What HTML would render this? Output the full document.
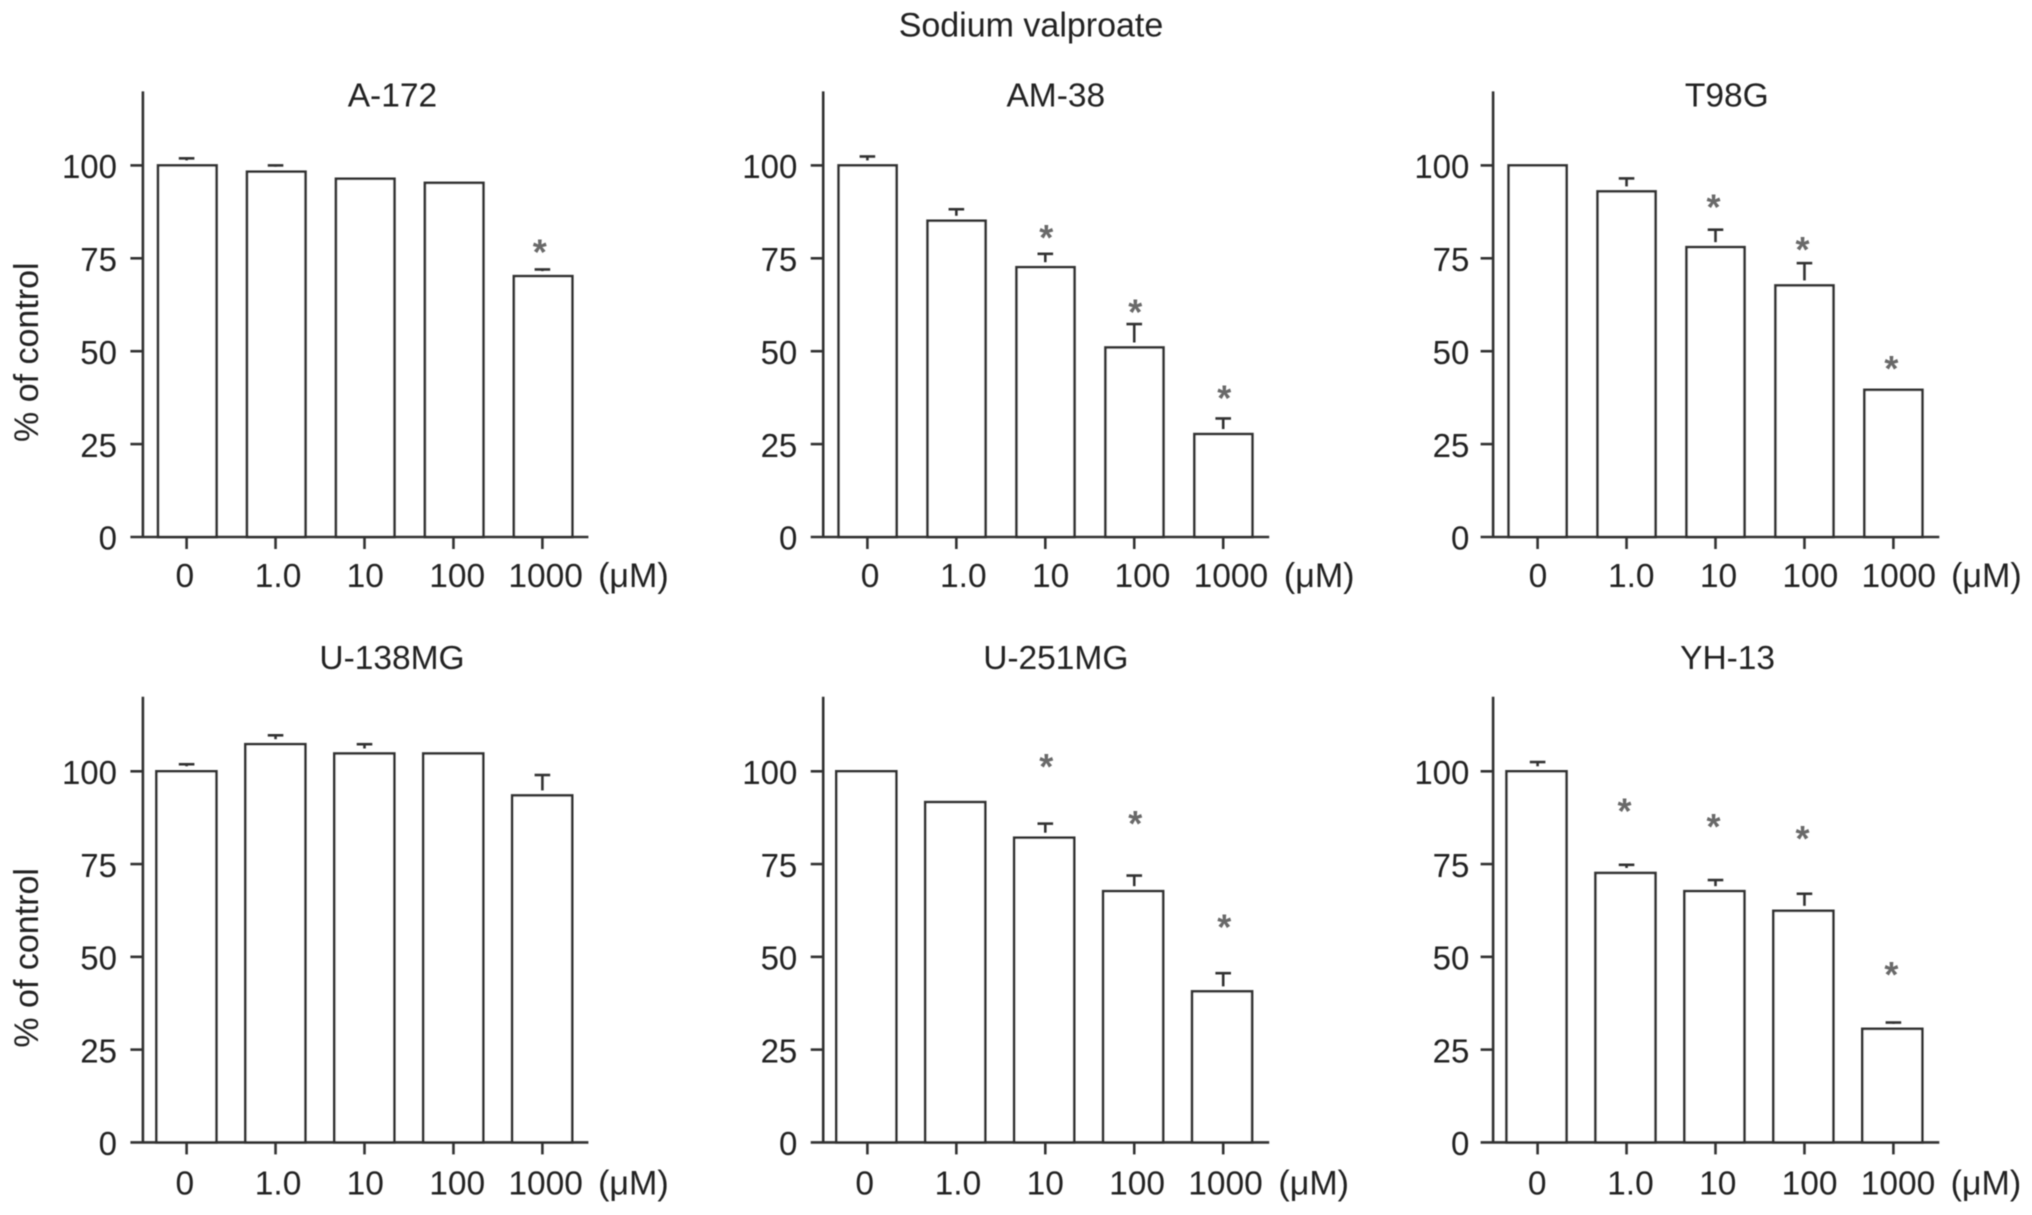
<!DOCTYPE html>
<html lang="en">
<head>
<meta charset="utf-8">
<title>Sodium valproate</title>
<style>
html,body{margin:0;padding:0;background:#fff;width:2032px;height:1215px;overflow:hidden}
svg{display:block}
text{font-family:"Liberation Sans",Arial,sans-serif;fill:#242424}
</style>
</head>
<body>
<svg id="figure" xmlns="http://www.w3.org/2000/svg" width="2032" height="1215" viewBox="0 0 2032 1215">
<defs><filter id="soft" x="-2%" y="-2%" width="104%" height="104%"><feGaussianBlur stdDeviation="0.55"/></filter></defs>
<rect x="0" y="0" width="2032" height="1215" fill="#fff"/>
<g id="root" filter="url(#soft)">
<text x="1031" y="36.5" font-size="34" text-anchor="middle">Sodium valproate</text>
</g>
</svg>
<script>
// Chart data
const doseLabels = ['0', '1.0', '10', '100', '1000'];
const yTickValues = [0, 25, 50, 75, 100];
const yTickLabels = ['0', '25', '50', '75', '100'];
const unitLabel = '(μM)';
const yAxisLabel = '% of control';

const a172Values = [100, 98.3, 96.4, 95.3, 70.2];
const a172Errors = [1.9, 1.7, 0, 0, 1.8];
const a172StarGaps = [null, null, null, null, 8.1];

const am38Values = [100, 85.1, 72.6, 51, 27.7];
const am38Errors = [2.4, 3.1, 3.6, 6.3, 4.2];
const am38StarGaps = [null, null, 9.6, 11.2, 11.3];

const t98gValues = [100, 93, 78, 67.7, 39.6];
const t98gErrors = [0, 3.5, 4.7, 6, 0];
const t98gStarGaps = [null, null, 12.4, 11.3, 7.3];

const u138Values = [100, 107.3, 104.8, 104.8, 93.5];
const u138Errors = [1.9, 2.4, 2.5, 0, 5.5];
const u138StarGaps = [null, null, null, null, null];

const u251Values = [100, 91.7, 82.1, 67.7, 40.7];
const u251Errors = [0, 0, 3.8, 4.2, 4.9];
const u251StarGaps = [null, null, 20.8, 19.8, 18.9];

const yh13Values = [100, 72.6, 67.7, 62.4, 30.6];
const yh13Errors = [2.5, 2.2, 3, 4.6, 1.7];
const yh13StarGaps = [null, 18.3, 19.1, 21.1, 16.3];

// Panel definitions (layout + references to the data above)
const panels = [
  {slug:'a-172', title:'A-172', values:a172Values, errors:a172Errors, gaps:a172StarGaps,
   axisX:142.9, axisEnd:588.4, tick0:186.6, bar0:187.3, barW:58.5, y0:537, y100:165.4, top:91.4, titleX:392.4, titleY:106.7, labelY:587, starDx:-2.6, labelDx:-1.8, unitDx:91, numRight:117, yLabel:true},
  {slug:'am-38', title:'AM-38', values:am38Values, errors:am38Errors, gaps:am38StarGaps,
   axisX:823.2, axisEnd:1269.2, tick0:867.4, bar0:867.6, barW:58, y0:537, y100:165.4, top:91.4, titleX:1055.8, titleY:106.7, labelY:587, starDx:1, labelDx:2.7, unitDx:96, numRight:797.3, yLabel:false},
  {slug:'t98g', title:'T98G', values:t98gValues, errors:t98gErrors, gaps:t98gStarGaps,
   axisX:1493.1, axisEnd:1939.3, tick0:1537.6, bar0:1537.6, barW:58, y0:537, y100:165.4, top:91.4, titleX:1726.8, titleY:106.7, labelY:587, starDx:-2, labelDx:0.4, unitDx:93, numRight:1469.4, yLabel:false},
  {slug:'u-138mg', title:'U-138MG', values:u138Values, errors:u138Errors, gaps:u138StarGaps,
   axisX:142.9, axisEnd:588.4, tick0:186.6, bar0:186.4, barW:60, y0:1142.4, y100:771.3, top:696.8, titleX:392, titleY:668.8, labelY:1194.5, starDx:-2.6, labelDx:-1.8, unitDx:91, numRight:117, yLabel:true},
  {slug:'u-251mg', title:'U-251MG', values:u251Values, errors:u251Errors, gaps:u251StarGaps,
   axisX:823.2, axisEnd:1269.2, tick0:867.4, bar0:866.3, barW:60, y0:1142.4, y100:771.3, top:696.8, titleX:1055.8, titleY:668.8, labelY:1194.5, starDx:1, labelDx:-2.7, unitDx:90.5, numRight:797.3, yLabel:false},
  {slug:'yh-13', title:'YH-13', values:yh13Values, errors:yh13Errors, gaps:yh13StarGaps,
   axisX:1493.1, axisEnd:1939.3, tick0:1537.6, bar0:1536.5, barW:60, y0:1142.4, y100:771.3, top:696.8, titleX:1727.6, titleY:668.8, labelY:1194.5, starDx:-2, labelDx:-0.4, unitDx:92.5, numRight:1469.4, yLabel:false}
];

const STEP = 88.95;
const INK = '#333';
const SW = 2.6;
const labelNudge = [0, 4.3, 2.6, 5.5, 5];
const SVGNS = 'http://www.w3.org/2000/svg';
const root = document.getElementById('root');

function make(parent, tag, props, text) {
  const node = document.createElementNS(SVGNS, tag);
  for (const k in props) node.setAttribute(k, props[k]);
  if (text !== undefined) node.textContent = text;
  parent.appendChild(node);
  return node;
}
function lineProps(x1, y1, x2, y2) {
  return {x1: x1, y1: y1, x2: x2, y2: y2, stroke: INK, 'stroke-width': SW};
}

panels.forEach(function (p) {
  const yScale = function (v) { return p.y0 - v * (p.y0 - p.y100) / 100; };
  const tickX = function (i) { return p.tick0 + STEP * i; };
  const barX = function (i) { return p.bar0 + STEP * i; };

  const g = make(root, 'g', {});
  
  

  const title = make(g, 'text', {x: p.titleX, y: p.titleY, 'font-size': 33.5, 'text-anchor': 'middle'}, p.title);
  
  

  if (p.yLabel) {
    const cy = (yScale(0) + yScale(100)) / 2 + 1;
    const yl = make(g, 'text', {x: 0, y: 0, 'font-size': 34, 'text-anchor': 'middle',
      transform: 'translate(38,' + cy + ') rotate(-90)'}, yAxisLabel);
    
    
  }

  // bars and error bars
  p.values.forEach(function (v, i) {
    const cx = barX(i);
    const bar = make(g, 'rect', {x: cx - p.barW / 2, y: yScale(v), width: p.barW, height: yScale(0) - yScale(v),
      fill: '#fff', stroke: INK, 'stroke-width': SW});
    
    

    const e = p.errors[i];
    if (e > 0) {
      const ex = tickX(i);
      const stemEnd = yScale(v) - 5;
      if (stemEnd > yScale(v + e)) {
        const stem = make(g, 'line', lineProps(ex, stemEnd, ex, yScale(v + e)));
        
        
      }
      const cap = make(g, 'line', lineProps(ex - 7.8, yScale(v + e), ex + 7.8, yScale(v + e)));
      
      
    }

    const gap = p.gaps[i];
    if (gap !== null) {
      const star = make(g, 'text', {x: tickX(i) + p.starDx, y: yScale(v + gap) + 18.5, 'font-size': 36, 'font-weight': 'bold',
        'text-anchor': 'middle', style: 'fill:#696969'}, '*');
      
      
    }
  });

  // axes
  const yAxis = make(g, 'line', lineProps(p.axisX, p.top, p.axisX, p.y0));
  
  

  const xAxis = make(g, 'line', lineProps(p.axisX - 12.5, p.y0, p.axisEnd, p.y0));
  
  

  yTickValues.forEach(function (t, i) {
    if (t !== 0) {
      const tick = make(g, 'line', lineProps(p.axisX - 12.5, yScale(t), p.axisX, yScale(t)));
      
      
    }
    const lab = make(g, 'text', {x: p.numRight, y: yScale(t) + 12.7, 'font-size': 33, 'text-anchor': 'end'}, yTickLabels[i]);
    
    
  });

  doseLabels.forEach(function (d, i) {
    const tick = make(g, 'line', lineProps(tickX(i), p.y0, tickX(i), p.y0 + 12));
    
    
    const lab = make(g, 'text', {x: tickX(i) + p.labelDx + labelNudge[i], y: p.labelY, 'font-size': 33.5, 'text-anchor': 'middle'}, d);
    
    
  });

  const unit = make(g, 'text', {x: tickX(4) + p.unitDx, y: p.labelY, 'font-size': 34, 'text-anchor': 'middle'}, unitLabel);
  
  
});
</script>
</body>
</html>
